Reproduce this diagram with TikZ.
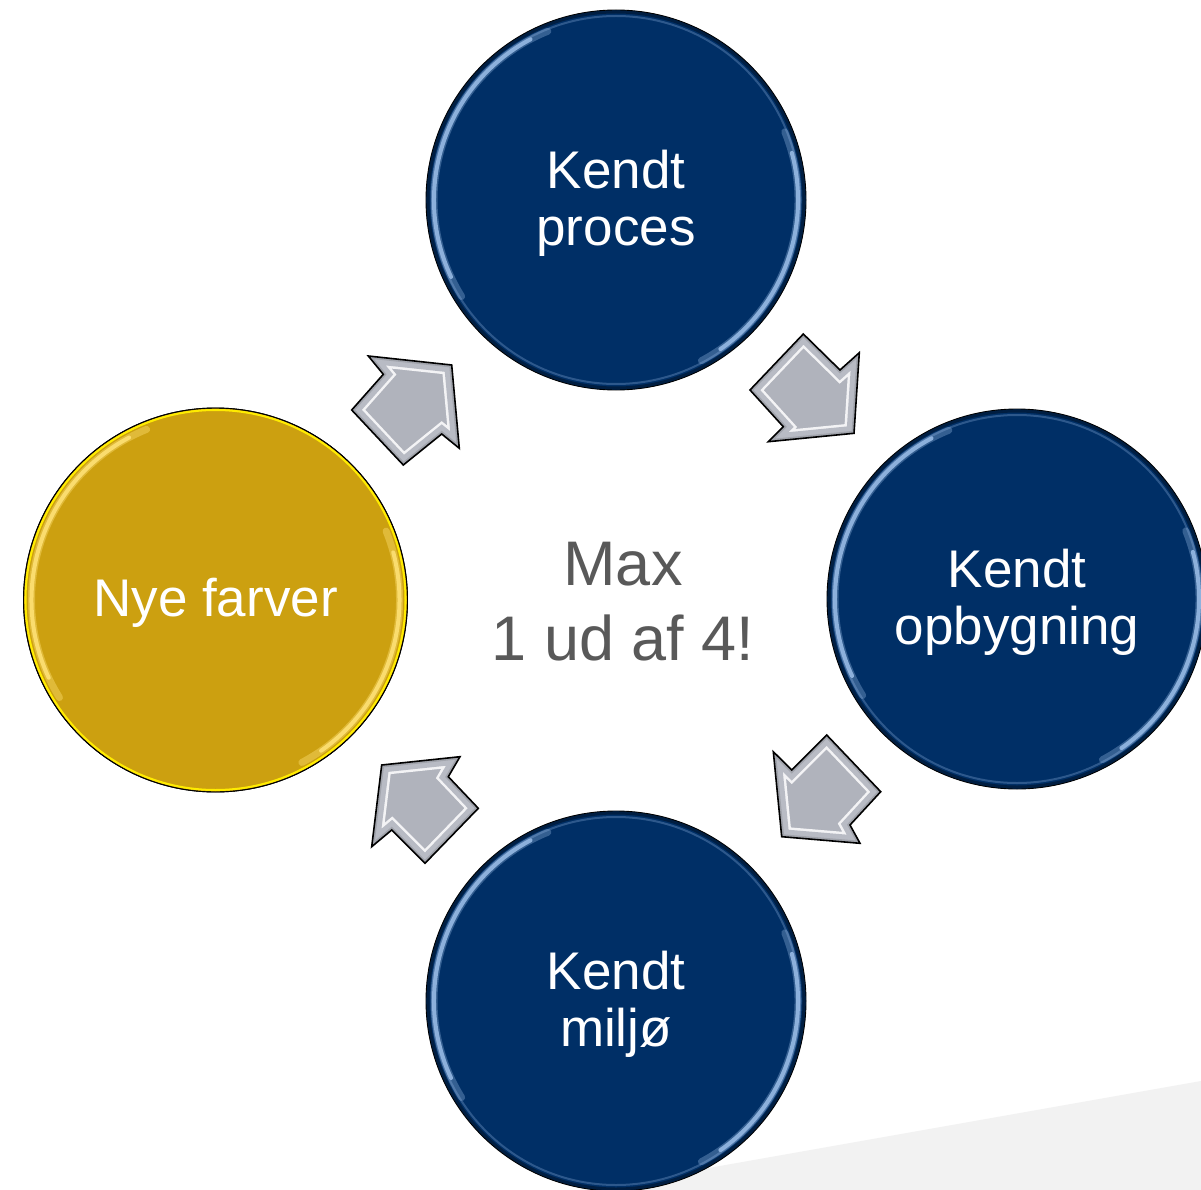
\documentclass[tikz,border=0pt]{standalone}
\usepackage{fontspec}
\setmainfont{Liberation Sans}
\definecolor{navy}{RGB}{0,47,102}
\definecolor{gold}{RGB}{204,160,16}
\definecolor{arrowgray}{RGB}{176,179,188}
\definecolor{arrowband}{RGB}{184,187,196}
\definecolor{hlblue}{RGB}{150,185,228}
\definecolor{ringyellow}{RGB}{255,236,0}
\definecolor{hlyellow}{RGB}{255,226,120}
\definecolor{textgray}{RGB}{89,89,89}
\definecolor{shadowgray}{RGB}{242,242,242}
\newcommand\bevelarrow[1]{%
  \begin{scope}
    \clip #1 -- cycle;
    \fill[arrowgray] #1 -- cycle;
    \draw[white, opacity=0.85, line width=20pt, line join=miter] #1 -- cycle;
    \draw[arrowband, line width=15pt, line join=miter] #1 -- cycle;
    \draw[black, opacity=0.12, line width=5pt, line join=miter] #1 -- cycle;
  \end{scope}
  \draw[black, line width=1.6pt, line join=miter] #1 -- cycle;
}
\begin{document}
\begin{tikzpicture}[x=1pt,y=1pt,
  disc/.style={circle, inner sep=0pt, outer sep=0pt, minimum size=380pt,
    draw=black, line width=0.9pt},
  bluedisc/.style={disc, fill=navy},
  golddisc/.style={disc, fill=gold, minimum size=384pt},
  disclabel/.style={text=white, align=center, font=\fontsize{53}{57}\selectfont},
  glow/.style={line width=4pt, line cap=round},
]
\useasboundingbox (0,0) rectangle (1201,-1190);
\clip (0,0) rectangle (1201,-1190);
\fill[white] (0,0) rectangle (1201,-1190);
\fill[shadowgray] (584,-1190) -- (1201,-1081) -- (1201,-1190) -- cycle;

% discs
\node[bluedisc] (kproces) at (616,-200) {};
\node[bluedisc] (kopbyg) at (1017,-599) {};
\node[bluedisc] (kmiljo) at (616,-1001) {};
\node[golddisc] (nye) at (215.5,-600) {};

% bevel highlights on blue discs
\foreach \n in {kproces,kopbyg,kmiljo}{
  \draw[black, opacity=0.35, line width=3pt] (\n.center) circle[radius=188pt];
  \draw[hlblue, opacity=0.3, line width=2pt] (\n.center) circle[radius=184pt];
  \draw[hlblue, opacity=0.35, line width=7pt, line cap=round] ([shift={(112:182pt)}]\n.center)
      arc[start angle=112, end angle=212, radius=182pt];
  \draw[hlblue, opacity=0.35, line width=7pt, line cap=round] ([shift={(-62:182pt)}]\n.center)
      arc[start angle=-62, end angle=22, radius=182pt];
  \draw[hlblue, opacity=0.9, glow] ([shift={(118:182pt)}]\n.center)
      arc[start angle=118, end angle=205, radius=182pt];
  \draw[hlblue, opacity=0.9, glow] ([shift={(-55:182pt)}]\n.center)
      arc[start angle=-55, end angle=15, radius=182pt];
}
% gold disc ring and highlights
\draw[ringyellow, line width=2pt] (nye.center) circle[radius=190pt];
\draw[hlyellow, opacity=0.4, line width=7pt, line cap=round] ([shift={(112:184pt)}]nye.center)
    arc[start angle=112, end angle=212, radius=184pt];
\draw[hlyellow, opacity=0.4, line width=7pt, line cap=round] ([shift={(-62:184pt)}]nye.center)
    arc[start angle=-62, end angle=22, radius=184pt];
\draw[hlyellow, opacity=0.85, glow] ([shift={(118:184pt)}]nye.center)
    arc[start angle=118, end angle=205, radius=184pt];
\draw[hlyellow, opacity=0.85, glow] ([shift={(-55:184pt)}]nye.center)
    arc[start angle=-55, end angle=15, radius=184pt];
\draw[black, line width=0.9pt] (nye.center) circle[radius=192pt];

% disc labels
\node[disclabel] (lproces) at ([yshift=-3pt]kproces.center) {Kendt\\proces};
\node[disclabel] (lopbyg) at ([yshift=-3pt]kopbyg.center) {Kendt\\opbygning};
\node[disclabel] (lmiljo) at ([yshift=-3pt]kmiljo.center) {Kendt\\milj\o};
\node[disclabel] (lnye) at ([yshift=-3pt]nye.center) {Nye farver};

% block arrows
\bevelarrow{(368.3,-356) -- (451.7,-365) -- (459.3,-448.3) -- (441.7,-434) -- (403.3,-465) -- (351.7,-410) -- (383.3,-374.3)}
\bevelarrow{(803.3,-334) -- (840,-370) -- (859.3,-352.7) -- (854,-433.3) -- (768.3,-441.7) -- (783.3,-426.7) -- (750,-390)}
\bevelarrow{(773.3,-751.7) -- (791.7,-770) -- (826.7,-735) -- (880.7,-791.7) -- (850,-825) -- (860,-843.3) -- (781.7,-836.7)}
\bevelarrow{(381.7,-765) -- (460,-756.7) -- (448.3,-776.7) -- (478.3,-808.3) -- (425,-863.3) -- (391.7,-830) -- (371.7,-846.7)}

% centre text
\node[text=textgray, align=center, font=\fontsize{63}{75}\selectfont] (maxtxt) at (623,-602) {Max\\1 ud af 4!};
\end{tikzpicture}
\end{document}
